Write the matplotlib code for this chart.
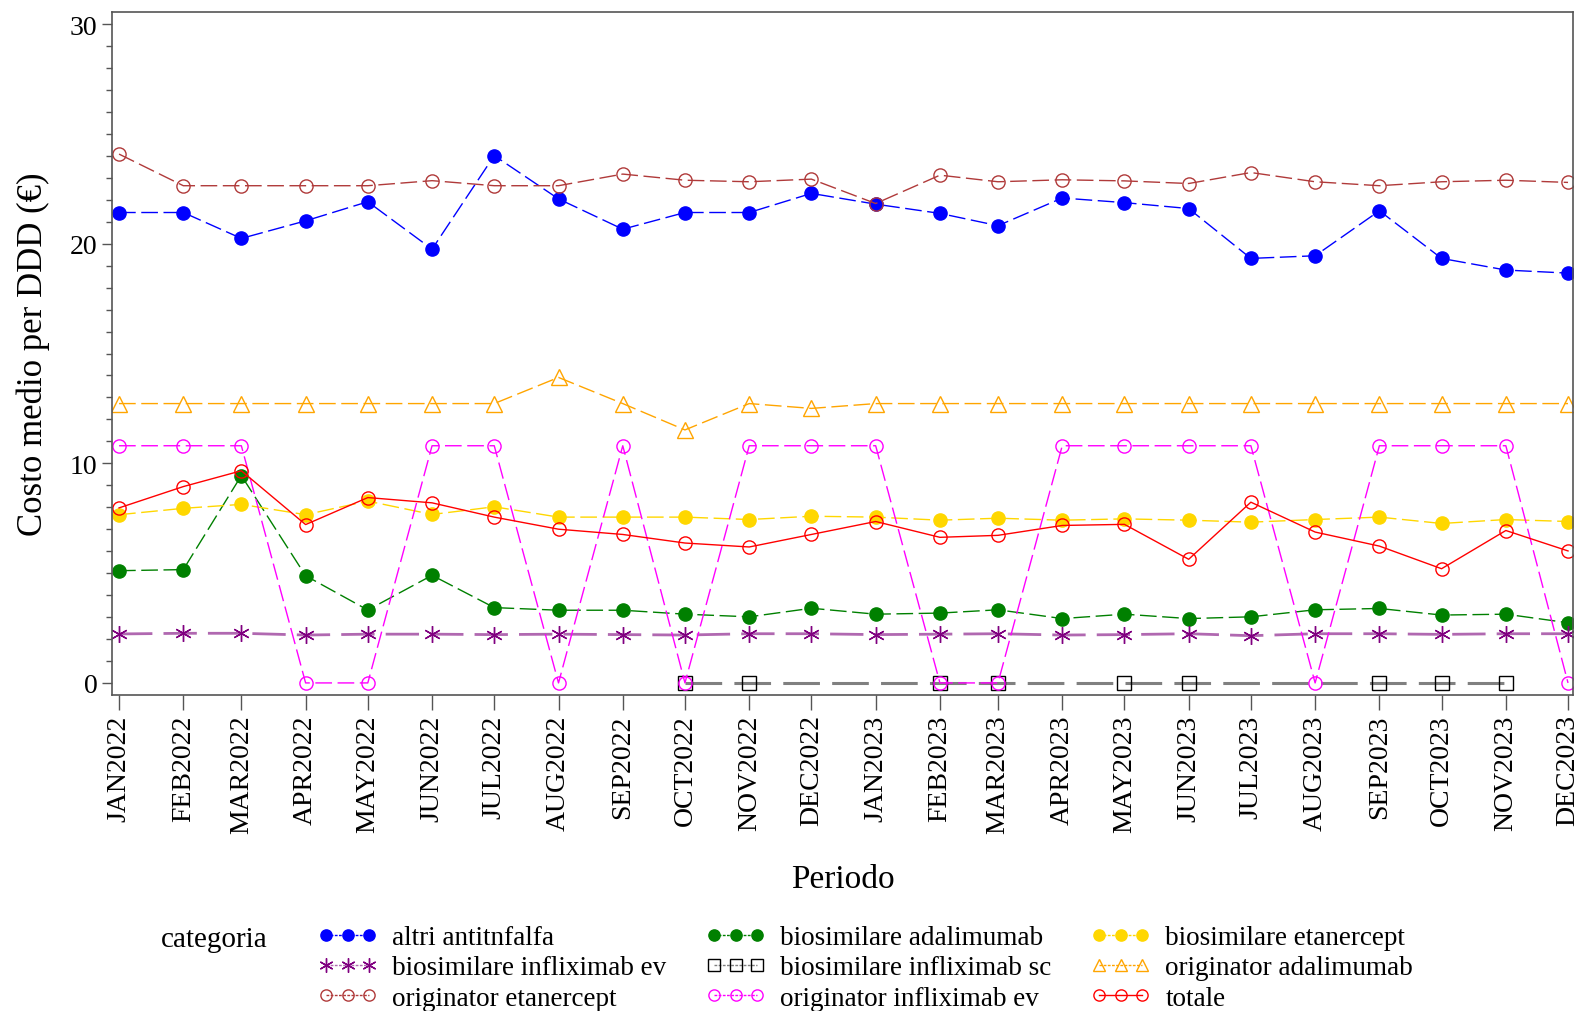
import numpy as np
import matplotlib
matplotlib.use("Agg")
import matplotlib.pyplot as plt
from matplotlib.lines import Line2D
from datetime import datetime, timedelta

plt.rcParams['font.family'] = ['Liberation Serif', 'DejaVu Serif']

months = ['JAN2022', 'FEB2022', 'MAR2022', 'APR2022', 'MAY2022', 'JUN2022',
          'JUL2022', 'AUG2022', 'SEP2022', 'OCT2022', 'NOV2022', 'DEC2022',
          'JAN2023', 'FEB2023', 'MAR2023', 'APR2023', 'MAY2023', 'JUN2023',
          'JUL2023', 'AUG2023', 'SEP2023', 'OCT2023', 'NOV2023', 'DEC2023']

altri_antitnfalfa = [21.42, 21.42, 20.24, 21.04, 21.91, 19.75, 24.01, 22.04, 20.66, 21.42, 21.42, 22.29,
                     21.80, 21.38, 20.82, 22.08, 21.87, 21.60, 19.33, 19.45, 21.50, 19.33, 18.80, 18.66]
bio_adalimumab = [5.11, 5.16, 9.44, 4.88, 3.32, 4.90, 3.43, 3.31, 3.31, 3.13, 3.01, 3.40,
                  3.13, 3.18, 3.33, 2.93, 3.13, 2.93, 3.01, 3.33, 3.39, 3.09, 3.13, 2.74]
bio_etanercept = [7.66, 7.95, 8.13, 7.66, 8.28, 7.67, 8.02, 7.55, 7.55, 7.55, 7.44, 7.59,
                  7.55, 7.41, 7.50, 7.41, 7.47, 7.41, 7.32, 7.44, 7.55, 7.26, 7.44, 7.35]
bio_infliximab_ev = [2.23, 2.26, 2.26, 2.18, 2.22, 2.22, 2.20, 2.22, 2.20, 2.18, 2.24, 2.24,
                     2.20, 2.22, 2.24, 2.18, 2.20, 2.24, 2.15, 2.24, 2.24, 2.21, 2.24, 2.24]
nan = np.nan
bio_infliximab_sc = [nan, nan, nan, nan, nan, nan, nan, nan, nan, 0, 0, nan,
                     nan, 0, 0, nan, 0, 0, nan, nan, 0, 0, 0, nan]
orig_adalimumab = [12.72, 12.72, 12.72, 12.72, 12.72, 12.72, 12.72, 13.91, 12.72, 11.52, 12.72, 12.50,
                   12.72, 12.72, 12.72, 12.72, 12.72, 12.72, 12.72, 12.72, 12.72, 12.72, 12.72, 12.72]
orig_etanercept = [24.08, 22.64, 22.64, 22.64, 22.64, 22.87, 22.64, 22.64, 23.17, 22.89, 22.82, 22.94,
                   21.83, 23.12, 22.82, 22.91, 22.86, 22.74, 23.24, 22.82, 22.64, 22.82, 22.89, 22.79]
orig_infliximab_ev = [10.8, 10.8, 10.8, 0, 0, 10.8, 10.8, 0, 10.8, 0, 10.8, 10.8,
                      10.8, 0, 0, 10.8, 10.8, 10.8, 10.8, 0, 10.8, 10.8, 10.8, 0]
totale = [7.97, 8.94, 9.66, 7.21, 8.44, 8.20, 7.55, 7.00, 6.76, 6.37, 6.19, 6.76,
          7.35, 6.63, 6.72, 7.17, 7.22, 5.63, 8.23, 6.87, 6.23, 5.20, 6.94, 6.01]

dates = [datetime.strptime(m, '%b%Y') for m in months]

fig = plt.figure(figsize=(15.82, 10.12), dpi=100)
ax = fig.add_axes([112 / 1582, 1 - 696 / 1012, (1573 - 112) / 1582, (696 - 13) / 1012])

dash = (0, (12, 4))
series = [
    # label, values, marker edge, marker, face, line color, linestyle, lw, size
    ('altri antitnfalfa', altri_antitnfalfa, '#0000FF', 'o', '#0000FF', '#0000FF', dash, 1.0, 9.5),
    ('biosimilare adalimumab', bio_adalimumab, '#008000', 'o', '#008000', '#008000', dash, 1.0, 9.5),
    ('biosimilare etanercept', bio_etanercept, '#FFD700', 'o', '#FFD700', '#FFD700', dash, 1.0, 9.5),
    ('biosimilare infliximab ev', bio_infliximab_ev, '#800080', (6, 2, 0), 'none', '#B068B0', dash, 2.0, 12),
    ('biosimilare infliximab sc', bio_infliximab_sc, '#000000', 's', 'none', '#808080', dash, 2.2, 9.5),
    ('originator adalimumab', orig_adalimumab, '#FFA500', '^', 'none', '#FFA500', dash, 1.0, 11),
    ('originator etanercept', orig_etanercept, '#B03A3A', 'o', 'none', '#B03A3A', dash, 1.0, 9.5),
    ('originator infliximab ev', orig_infliximab_ev, '#FF00FF', 'o', 'none', '#FF00FF', dash, 1.0, 9.5),
    ('totale', totale, '#FF0000', 'o', 'none', '#FF0000', '-', 1.0, 9.5),
]

handles = {}
for label, vals, col, mk, mfc, lcol, ls, lw, ms in series:
    v = np.array(vals, dtype=float)
    ok = ~np.isnan(v)
    d = [dt for dt, k in zip(dates, ok) if k]
    ax.plot(d, v[ok], color=lcol, linestyle=ls, linewidth=lw)
    ax.plot(d, v[ok], linestyle='none', marker=mk, markersize=ms,
            markerfacecolor=mfc, markeredgecolor=col, markeredgewidth=1.0)
    handles[label] = Line2D([], [], color=lcol, linestyle=(0, (2, 1)), linewidth=1.0,
                            marker=mk, markersize=ms * 0.85, markerfacecolor=mfc,
                            markeredgecolor=col, markeredgewidth=1.0)
handles['totale'].set_linestyle('-')

ax.set_xlim(dates[0] - timedelta(days=3.4), dates[-1] + timedelta(days=2.4))
ax.set_ylim(-0.55, 30.55)
ax.set_xticks(dates)
ax.set_xticklabels(months, rotation=90, fontsize=20)
ax.set_yticks([0, 10, 20, 30])
ax.set_yticks(np.arange(0, 31, 1), minor=True)
ax.tick_params(axis='y', labelsize=20, length=7, color='#555555', width=1)
ax.tick_params(axis='y', which='minor', length=4, color='#555555', width=1)
ax.tick_params(axis='x', length=11, color='#555555', width=1, pad=3)
for s in ax.spines.values():
    s.set_color('#555555')
    s.set_linewidth(1.2)

ax.set_xlabel('Periodo', fontsize=24, labelpad=22)
ax.set_ylabel('Costo medio per DDD (€)', fontsize=25, labelpad=14)

order = ['altri antitnfalfa', 'biosimilare infliximab ev', 'originator etanercept',
         'biosimilare adalimumab', 'biosimilare infliximab sc', 'originator infliximab ev',
         'biosimilare etanercept', 'originator adalimumab', 'totale']
fig.text(161 / 1582, 1 - 940 / 1012, 'categoria', fontsize=21, va='center', ha='left')
fig.legend([handles[k] for k in order], order, loc='upper left',
           bbox_to_anchor=(318 / 1582, 1 - 926 / 1012), ncol=3, frameon=False,
           fontsize=19.5, numpoints=3, handlelength=2.2, handletextpad=0.55,
           columnspacing=1.45, labelspacing=0.2, borderpad=0, borderaxespad=0)

fig.savefig('out.png', dpi=100)
